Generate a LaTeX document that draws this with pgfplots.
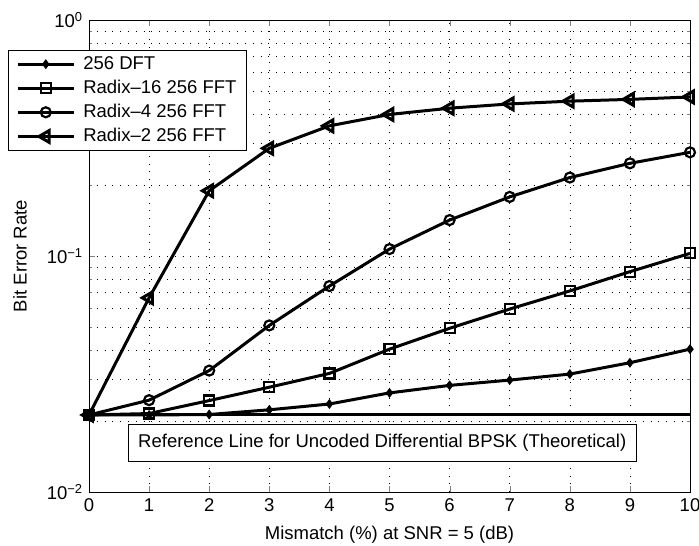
\documentclass[border=0pt]{standalone}
\usepackage{fontspec}
\setmainfont{Liberation Sans}
\usepackage{pgfplots}
\pgfplotsset{compat=1.18}
\newcommand{\fs}{\fontsize{18.5}{22}\selectfont}
\begin{document}
\fs
\begin{tikzpicture}
\begin{axis}[
    scale only axis,
    width=601pt, height=472pt,
    ymode=log,
    xmin=0, xmax=10, ymin=1e-2, ymax=1,
    xtick={0,1,...,10},
    ytick={0.01,0.1,1},
    yticklabels={10\textsuperscript{−2},10\textsuperscript{−1},10\textsuperscript{0}},
    /pgf/number format/assume math mode=true,
    tick label style={font=\fs},
    label style={font=\fs},
    xlabel={Mismatch (\%) at SNR = 5 (dB)},
    ylabel={Bit Error Rate},
    xlabel style={at={(axis description cs:0.5,-0.091)}, anchor=center},
    ylabel style={at={(axis description cs:-0.1148,0.5)}, anchor=center},
    tick align=inside,
    major tick length=6pt, minor tick length=3pt,
    axis line style={line width=0.6pt},
    grid=both,
    major grid style={black, line width=0.5pt, dash pattern=on 0.8pt off 7pt},
    minor grid style={black, line width=0.5pt, dash pattern=on 0.8pt off 7pt},
    legend cell align=left,
    legend style={at={(axis description cs:-0.1348,0.9364)}, anchor=north west,
        draw=black, line width=0.6pt, fill=white, font=\fs,
        row sep=4pt, inner xsep=8pt, inner ysep=4pt},
    legend image code/.code={
        \draw[mark repeat=2, mark phase=2] plot coordinates {(0pt,0pt) (28pt,0pt) (56pt,0pt)};
        \path (62pt,0pt);
    },
    every axis plot/.append style={black, line width=3pt, mark options={solid, line width=2.2pt}},
]
% theoretical DBPSK reference
\addplot[forget plot, mark=none] coordinates {(0,0.0212) (10,0.0212)};

\addplot[mark=diamond*, mark size=3.2pt] coordinates {
    (0,0.0212) (1,0.0212) (2,0.0213) (3,0.0223) (4,0.0236) (5,0.0263)
    (6,0.0283) (7,0.0298) (8,0.0316) (9,0.0353) (10,0.0403)};
\addlegendentry{256 DFT}

\addplot[mark=square, mark size=5pt] coordinates {
    (0,0.0212) (1,0.0215) (2,0.0244) (3,0.0278) (4,0.0318) (5,0.0403)
    (6,0.0494) (7,0.0596) (8,0.0711) (9,0.0858) (10,0.1026)};
\addlegendentry{Radix–16 256 FFT}

\addplot[mark=o, mark size=5pt] coordinates {
    (0,0.0212) (1,0.0245) (2,0.0327) (3,0.0508) (4,0.0746) (5,0.107)
    (6,0.142) (7,0.178) (8,0.215) (9,0.247) (10,0.275)};
\addlegendentry{Radix–4 256 FFT}

\addplot[mark=triangle, mark size=6.8pt, mark options={rotate=90}] coordinates {
    (0,0.0212) (1,0.0665) (2,0.189) (3,0.286) (4,0.356) (5,0.398)
    (6,0.423) (7,0.441) (8,0.453) (9,0.461) (10,0.472)};
\addlegendentry{Radix–2 256 FFT}

\node[draw=black, line width=0.6pt, fill=white, inner xsep=10pt, minimum height=37pt, font=\fs]
    at (axis cs:4.88,0.0161) {Reference Line for Uncoded Differential BPSK (Theoretical)};
\end{axis}
\pgfresetboundingbox
\path ([shift={(-89pt,-54pt)}]current axis.south west) rectangle ([shift={(9pt,20pt)}]current axis.north east);
\end{tikzpicture}
\end{document}
